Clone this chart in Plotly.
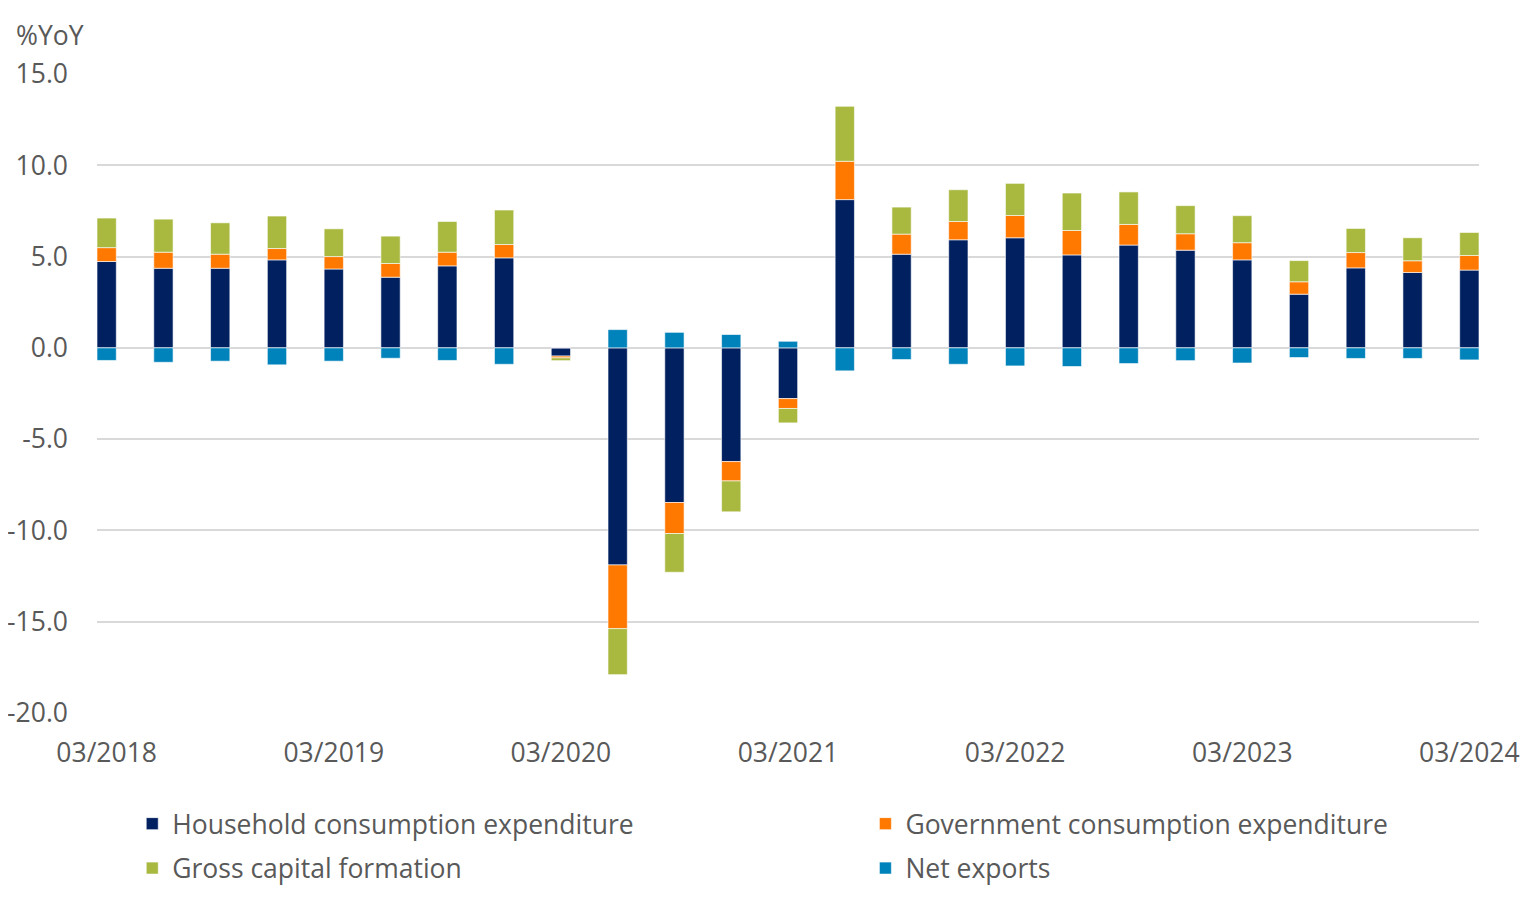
import plotly.graph_objects as go

quarters = ["03/2018", "06/2018", "09/2018", "12/2018",
            "03/2019", "06/2019", "09/2019", "12/2019",
            "03/2020", "06/2020", "09/2020", "12/2020",
            "03/2021", "06/2021", "09/2021", "12/2021",
            "03/2022", "06/2022", "09/2022", "12/2022",
            "03/2023", "06/2023", "09/2023", "12/2023",
            "03/2024"]

household = [4.73, 4.36, 4.36, 4.82, 4.32, 3.87, 4.49, 4.93,
             -0.45, -11.89, -8.47, -6.23, -2.78, 8.12, 5.13, 5.92,
             6.03, 5.09, 5.63, 5.35, 4.82, 2.94, 4.38, 4.13, 4.26]
government = [0.76, 0.88, 0.77, 0.62, 0.68, 0.75, 0.75, 0.73,
              -0.10, -3.49, -1.70, -1.06, -0.54, 2.10, 1.10, 1.00,
              1.22, 1.34, 1.13, 0.90, 0.94, 0.68, 0.84, 0.64, 0.80]
capital = [1.62, 1.81, 1.72, 1.78, 1.52, 1.50, 1.68, 1.89,
           -0.15, -2.52, -2.12, -1.69, -0.79, 3.01, 1.48, 1.74,
           1.76, 2.05, 1.78, 1.54, 1.48, 1.16, 1.32, 1.26, 1.26]
net_exports = [-0.69, -0.79, -0.73, -0.93, -0.73, -0.57, -0.69, -0.90,
               0.0, 1.00, 0.85, 0.73, 0.36, -1.26, -0.64, -0.90,
               -0.99, -1.02, -0.86, -0.70, -0.83, -0.53, -0.58, -0.58, -0.66]

tick_labels = quarters[::4]
y_ticks = [15, 10, 5, 0, -5, -10, -15, -20]

FONT = "Open Sans"
GREY = "#595959"
SIZE = 26.5

series = [
    ("Household consumption expenditure", household, "#002060", "legend"),
    ("Government consumption expenditure", government, "#FF7800", "legend2"),
    ("Gross capital formation", capital, "#A9B83F", "legend"),
    ("Net exports", net_exports, "#0082BA", "legend2"),
]

fig = go.Figure()
for name, vals, color, leg in series:
    fig.add_trace(go.Bar(
        x=quarters, y=vals, name=name,
        marker=dict(color=color, line=dict(color="rgba(255,255,255,0.6)", width=1)),
        width=0.34, legend=leg, legendgroup=name,
    ))

# page body adds an 8px margin, so the figure is a bit smaller than the window
fig.update_layout(
    barmode="relative",
    width=1528, height=900,
    margin=dict(l=89, r=57, t=66, b=195),
    plot_bgcolor="white", paper_bgcolor="white",
    font=dict(family=FONT, size=SIZE, color=GREY),
    xaxis=dict(
        type="category", categoryorder="array", categoryarray=quarters,
        range=[-0.17, 24.17], automargin=False,
        tickmode="array", tickvals=tick_labels, ticktext=tick_labels,
        showgrid=False, zeroline=False, showline=False, ticks="",
        ticklabelstandoff=21,
    ),
    yaxis=dict(
        range=[-20, 15], automargin=False,
        tickmode="array", tickvals=y_ticks,
        ticktext=[f"{v:.1f}" for v in y_ticks],
        showgrid=True, gridcolor="#D9D9D9", gridwidth=1.5,
        zeroline=True, zerolinecolor="#D9D9D9", zerolinewidth=1.5,
        showline=False, ticks="", ticklabelstandoff=28,
    ),
    legend=dict(x=0.0255, y=-0.136, xanchor="left", yanchor="top",
                orientation="v", tracegroupgap=7, font=dict(size=SIZE, color=GREY)),
    legend2=dict(x=0.556, y=-0.136, xanchor="left", yanchor="top",
                 orientation="v", tracegroupgap=7, font=dict(size=SIZE, color=GREY)),
    annotations=[dict(text="%YoY", xref="paper", yref="paper", x=0, y=1,
                      xanchor="left", yanchor="bottom", xshift=-83, yshift=19,
                      showarrow=False, font=dict(size=SIZE, color=GREY))],
)

fig.write_html("out.html")
